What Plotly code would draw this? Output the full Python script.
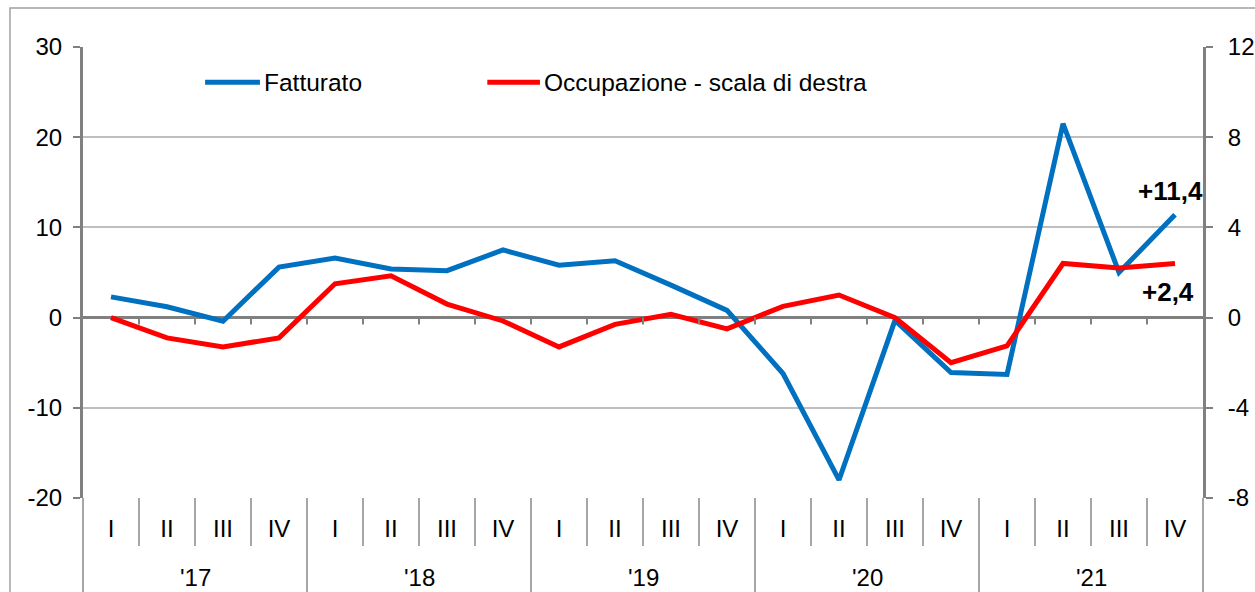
import plotly.graph_objects as go

# data
quarters = ["I", "II", "III", "IV"]
years = ["'17", "'18", "'19", "'20", "'21"]
series_names = ["Fatturato", "Occupazione - scala di destra"]
fatturato = [2.3, 1.2, -0.4, 5.6, 6.6, 5.4, 5.2, 7.5, 5.8, 6.3,
             3.6, 0.8, -6.2, -18.0, -0.3, -6.1, -6.3, 21.5, 5.0, 11.4]
occupazione = [0.0, -0.9, -1.3, -0.9, 1.5, 1.85, 0.6, -0.15, -1.3, -0.3,
               0.15, -0.5, 0.5, 1.0, 0.0, -2.0, -1.25, 2.4, 2.2, 2.4]
end_labels = ["+11,4", "+2,4"]
left_ticks = [-20, -10, 0, 10, 20, 30]
right_ticks = [-8, -4, 0, 4, 8, 12]

BLUE = "#0070C0"
RED = "#FF0000"
GRID = "#BFBFBF"
AXIS = "#808080"
SEP = "#A6A6A6"
FONT = "Liberation Sans, Arial, sans-serif"

n = len(fatturato)
x = list(range(n))
tick_text = quarters * len(years)
PLOT_H = 592 - 47 - 94  # plot area height in px


def hyphen(v):
    # Excel style labels use a plain hyphen, not the unicode minus
    return str(v)


fig = go.Figure()
fig.add_trace(go.Scatter(x=x, y=fatturato, name=series_names[0], mode="lines",
                         line=dict(color=BLUE, width=5), yaxis="y"))
fig.add_trace(go.Scatter(x=x, y=occupazione, name=series_names[1], mode="lines",
                         line=dict(color=RED, width=5), yaxis="y2"))

shapes = []
# small ticks on the zero line, at category boundaries
for k in range(1, n):
    shapes.append(dict(type="line", xref="x", yref="y", x0=k - 0.5, x1=k - 0.5,
                       ysizemode="pixel", yanchor=0, y0=0, y1=-7,
                       line=dict(color=AXIS, width=2)))
# separators in the label area (paper coords, so they are not clipped)
for k in range(0, n + 1):
    tall = (k % len(quarters) == 0)
    depth = 110 if tall else 48
    shapes.append(dict(type="line", xref="paper", yref="paper", x0=k / n, x1=k / n,
                       y0=0, y1=-depth / PLOT_H,
                       line=dict(color=SEP, width=2)))
# outer frame
shapes.append(dict(type="rect", xref="paper", yref="paper",
                   x0=-0.0652, x1=1.2, y0=-0.5, y1=1.0865,
                   line=dict(color="#A0A0A0", width=1.5), layer="below"))
# manual legend
legend_pos = [(0.109, 0.158), (0.361, 0.408)]
for (a, b), col in zip(legend_pos, [BLUE, RED]):
    shapes.append(dict(type="line", xref="paper", yref="paper", x0=a, x1=b,
                       y0=0.922, y1=0.922, line=dict(color=col, width=5)))

annotations = []
for (a, b), name in zip(legend_pos, series_names):
    annotations.append(dict(x=b, y=0.922, xref="paper", yref="paper", text=name,
                            showarrow=False, xanchor="left", yanchor="middle",
                            xshift=2, font=dict(size=24.5, color="black")))
for i, yr in enumerate(years):
    annotations.append(dict(x=i * len(quarters) + 1.5, y=0, xref="x", yref="paper",
                            text=yr, showarrow=False, yanchor="middle", yshift=-79,
                            font=dict(size=24, color="black")))
annotations.append(dict(x=x[-1], y=fatturato[-1], xref="x", yref="y", text="<b>%s</b>" % end_labels[0],
                        showarrow=False, xanchor="right", yanchor="middle",
                        xshift=30, yshift=24, font=dict(size=26, color="black")))
annotations.append(dict(x=x[-1], y=occupazione[-1], xref="x", yref="y2", text="<b>%s</b>" % end_labels[1],
                        showarrow=False, xanchor="right", yanchor="middle",
                        xshift=21, yshift=-29, font=dict(size=26, color="black")))

fig.update_layout(
    width=1255, height=592,
    margin=dict(l=83, r=52, t=47, b=94, autoexpand=False),
    paper_bgcolor="white", plot_bgcolor="white",
    font=dict(family=FONT, size=24, color="black"),
    showlegend=False,
    xaxis=dict(range=[-0.5, n - 0.5], tickvals=x, ticktext=tick_text,
               showgrid=False, zeroline=False, showline=False, ticks="",
               automargin=False,
               ticklabelstandoff=14, tickfont=dict(size=24)),
    yaxis=dict(range=[-20, 30], tickvals=left_ticks, ticktext=[hyphen(v) for v in left_ticks],
               showgrid=True, gridcolor=GRID, gridwidth=2,
               zeroline=True, zerolinecolor=AXIS, zerolinewidth=3,
               showline=True, linecolor=AXIS, linewidth=3,
               ticks="outside", ticklen=7, tickwidth=2, tickcolor=AXIS,
               automargin=False,
               ticklabelstandoff=6, tickfont=dict(size=24)),
    yaxis2=dict(range=[-8, 12], tickvals=right_ticks, ticktext=[hyphen(v) for v in right_ticks],
                overlaying="y", side="right",
                showgrid=False, zeroline=False,
                showline=True, linecolor=AXIS, linewidth=3,
                ticks="outside", ticklen=7, tickwidth=2, tickcolor=AXIS,
                automargin=False,
                ticklabelstandoff=10, tickfont=dict(size=24)),
    shapes=shapes,
    annotations=annotations,
)

fig.write_html("out.html", config={"displayModeBar": False},
               post_script="document.body.style.margin='0';")
